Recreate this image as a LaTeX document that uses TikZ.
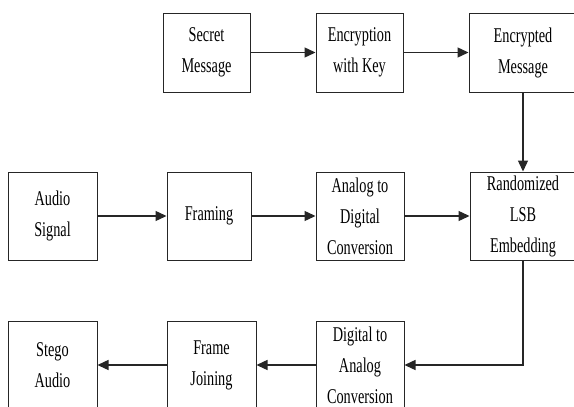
\documentclass[tikz,border=0pt]{standalone}
\usepackage{fontspec}
\setmainfont[FakeStretch=0.68]{Liberation Serif}
\usetikzlibrary{arrows.meta}
\begin{document}
\begin{tikzpicture}[x=1pt, y=-1pt,
  blk/.style={draw=black!85, line width=1pt, fill=white, align=center, inner sep=0pt,
    minimum height=88pt, font=\fontsize{21}{31}\selectfont},
  flow/.style={draw=black!85, line width=1.4pt, -{Triangle[length=11pt,width=10pt]}}]
\useasboundingbox[fill=white] (0,0) rectangle (574,407);
\node[blk, minimum width=87pt, minimum height=79pt] (secret) at (206.5,52.5){Secret\\Message};
\node[blk, minimum width=87pt, minimum height=79pt] (enc) at (359.5,52.5){Encryption\\with Key};
\node[blk, minimum width=108pt, minimum height=79pt] (encmsg) at (523,52.5){Encrypted\\Message};
\draw[flow](secret) -- (enc);
\draw[flow](enc) -- (encmsg);
\node[blk, minimum width=89pt] (audio) at (52.5,216){Audio\\Signal};
\node[blk, minimum width=84pt] (framing) at (209,216){Framing};
\node[blk, minimum width=88pt] (atod) at (360,216){Analog to\\Digital\\Conversion};
\node[blk, minimum width=106pt] (lsb) at (523,216){Randomized\\LSB\\Embedding};
\draw[flow](encmsg) -- (lsb);
\draw[flow](audio) -- (framing);
\draw[flow](framing) -- (atod);
\draw[flow](atod) -- (lsb);
\node[blk, minimum width=89pt] (stego) at (52.5,365){Stego\\Audio};
\node[blk, minimum width=89pt] (joining) at (211.5,365){Frame\\Joining};
\node[blk, minimum width=88pt] (dtoa) at (360,365){Digital to\\Analog\\Conversion};
\draw[flow](lsb.south) |- (dtoa.east);
\draw[flow](dtoa) -- (joining);
\draw[flow](joining) -- (stego);
\end{tikzpicture}
\end{document}
